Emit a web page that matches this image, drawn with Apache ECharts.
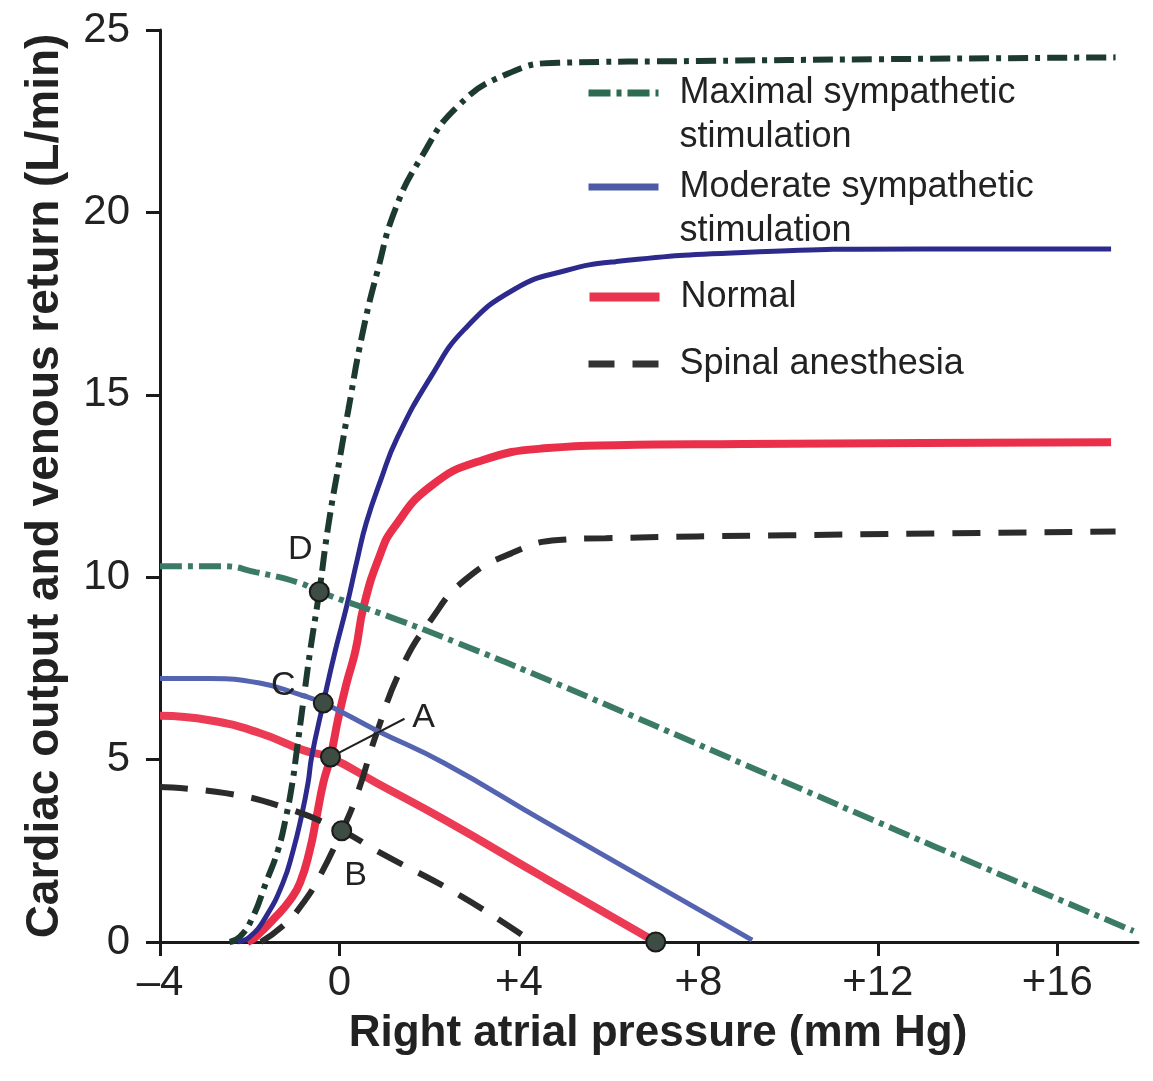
<!DOCTYPE html>
<html>
<head>
<meta charset="utf-8">
<script src="https://cdn.jsdelivr.net/npm/echarts@6/dist/echarts.min.js"></script>
<style>
  html, body { margin: 0; padding: 0; background: #fff; }
  #main { width: 1153px; height: 1081px; }
</style>
</head>
<body>
<div id="main"></div>
<script>
// tick labels
var xTicks = [-4, 0, 4, 8, 12, 16];

// cardiac output curves (x = right atrial pressure, y = L/min)
var maximalCO = [[-2.45,0],[-2.22,0.14],[-1.93,0.69],[-1.64,1.62],[-1.37,2.52],[-1.19,3.43],[-1.05,4.36],[-0.97,5.07],[-0.81,6.55],[-0.65,8.0],[-0.45,9.6],[-0.25,11.4],[0.0,13.2],[0.2,14.6],[0.5,16.6],[0.85,18.4],[1.25,20.1],[1.82,21.5],[2.63,22.9],[3.75,23.8],[4.88,24.1],[8,24.15],[12,24.2],[17.3,24.25]];
var moderateCO = [[-2.27,0],[-2.0,0.14],[-1.64,0.69],[-1.26,1.62],[-1.03,2.52],[-0.85,3.43],[-0.7,4.36],[-0.62,5.07],[-0.36,6.55],[-0.09,8.0],[0.16,9.2],[0.4,10.5],[0.6,11.5],[0.92,12.66],[1.28,13.8],[2.04,15.5],[2.79,16.8],[3.91,17.9],[5.03,18.4],[6.16,18.65],[9,18.9],[13,19.0],[17.2,19.0]];
var normalCO = [[-2.05,0],[-1.87,0.14],[-1.42,0.69],[-1.1,1.15],[-0.88,1.62],[-0.66,2.52],[-0.51,3.43],[-0.36,4.36],[-0.2,5.07],[-0.02,6.17],[0.16,7.1],[0.36,8.0],[0.54,9.2],[0.9,10.6],[1.21,11.35],[2.04,12.5],[3.17,13.2],[4.65,13.54],[6.16,13.62],[9,13.65],[13,13.68],[17.2,13.7]];
var spinalCO = [[-1.75,0],[-1.19,0.52],[-0.81,1.07],[-0.52,1.62],[0.0,2.9],[0.38,4.0],[0.83,5.73],[1.4,7.55],[2.04,8.83],[2.79,9.92],[3.84,10.66],[4.88,11.02],[5.93,11.07],[10,11.15],[17.3,11.25]];

// venous return curves
var maximalVR = [[-4,10.3],[-2.6,10.3],[-1.87,10.14],[-0.88,9.84],[-0.45,9.6],[1.15,8.9],[2.63,8.2],[4.81,7.1],[9.06,4.85],[13.3,2.6],[17.7,0.3]];
var moderateVR = [[-4,7.22],[-2.9,7.22],[-1.78,7.1],[-0.88,6.78],[-0.36,6.55],[0.83,5.8],[2.34,4.9],[4.58,3.3],[9.2,0.05]];
var normalVR = [[-4,6.2],[-2.9,6.08],[-1.78,5.73],[-0.81,5.26],[-0.2,5.05],[0.83,4.36],[2.34,3.35],[4.58,1.75],[7.05,0]];
var spinalVR = [[-4,4.25],[-2.54,4.08],[-1.26,3.7],[0.05,3.05],[0.83,2.5],[2.72,1.25],[4.3,0]];

// equilibrium points
var pointLabels = ['A', 'B', 'C', 'D', ''];
var pointValues = [[-0.2,5.07],[0.05,3.05],[-0.36,6.55],[-0.45,9.6],[7.05,0]];
var leaderA = [[-0.2,5.07],[1.45,6.12]];

var names = ['Maximal sympathetic stimulation', 'Moderate sympathetic stimulation', 'Normal', 'Spinal anesthesia'];

var chart = echarts.init(document.getElementById('main'));
var font = 'Liberation Sans, Arial, Helvetica, sans-serif';

// label offsets for A B C D
var labelOffsets = { A: [93, -39], B: [14, 45], C: [-40, -17], D: [-19, -42] };

var pointData = pointValues.map(function(v, i){
  var lab = pointLabels[i];
  return {
    value: v,
    label: lab ? { show: true, formatter: lab, offset: labelOffsets[lab] } : { show: false }
  };
});

function curve(name, data, color, width, type, z){
  return {
    name: name,
    type: 'line',
    data: data,
    showSymbol: false,
    symbol: 'none',
    smooth: 0.5,
    z: z || 2,
    lineStyle: { color: color, width: width, type: type, cap: 'butt' },
    itemStyle: { color: color }
  };
}

function legendFor(name, top, color, width, type, twoLine){
  return {
    data: [{ name: name, lineStyle: { color: color, width: width, type: type } }],
    left: 585,
    top: top,
    padding: 0,
    itemWidth: 70,
    itemHeight: 14,
    itemStyle: { opacity: 0, borderWidth: 0 },
    formatter: function(n){
      // keep the icon level with the first text line
      return twoLine ? '\n' + n.replace(' stimulation', '\nstimulation') : n;
    },
    textStyle: {
      fontFamily: font, fontSize: 36, color: '#222', lineHeight: 44,
      padding: [0, 0, 0, 16]
    }
  };
}

var option = {
  animation: false,
  backgroundColor: '#fff',
  grid: { left: 160, right: 15, top: 30, bottom: 139, containLabel: false, outerBoundsMode: 'none' },
  legend: [
    legendFor(names[0], 27, '#2c6a52', 7, [22, 6, 5, 6], true),
    legendFor(names[1], 121, '#4d5aa8', 7, 'solid', true),
    legendFor(names[2], 275, '#e8344e', 9, 'solid', false),
    legendFor(names[3], 342, '#333', 7, [26, 18], false)
  ],
  xAxis: {
    type: 'value',
    min: -4,
    max: 17.8,
    interval: 4,
    name: 'Right atrial pressure (mm Hg)',
    nameLocation: 'middle',
    nameGap: 70,
    nameMoveOverlap: false,
    nameTextStyle: { fontFamily: font, fontSize: 44, fontWeight: 'bold', color: '#222', padding: [0, 0, 0, 18] },
    axisLine: { onZero: false, lineStyle: { color: '#1a1a1a', width: 3 } },
    axisTick: { show: true, length: 14, lineStyle: { color: '#1a1a1a', width: 3 }, customValues: xTicks },
    axisLabel: {
      customValues: xTicks,
      margin: 20,
      fontFamily: font, fontSize: 42, color: '#222',
      formatter: function(v){ return v < 0 ? '\u2013' + Math.abs(v) : (v > 0 ? '+' + v : '' + v); }
    },
    splitLine: { show: false }
  },
  yAxis: {
    type: 'value',
    min: 0,
    max: 25,
    interval: 5,
    name: 'Cardiac output and venous return (L/min)',
    nameLocation: 'middle',
    nameGap: 92,
    nameMoveOverlap: false,
    nameTextStyle: { fontFamily: font, fontSize: 46, fontWeight: 'bold', color: '#222' },
    axisLine: { show: true, onZero: false, lineStyle: { color: '#1a1a1a', width: 3 } },
    axisTick: { show: true, length: 14, lineStyle: { color: '#1a1a1a', width: 3 } },
    axisLabel: { margin: 30, fontFamily: font, fontSize: 42, color: '#222' },
    splitLine: { show: false }
  },
  series: [
    curve(names[0], maximalCO, '#1d3a30', 6, [20, 7, 5, 7], 3),
    curve(names[1], moderateCO, '#2d2a8e', 5, 'solid', 3),
    curve(names[2], normalCO, '#ea2f4a', 8, 'solid', 2),
    curve(names[3], spinalCO, '#2b2b2b', 6, [28, 18], 3),
    curve(names[0], maximalVR, '#3a7a66', 6, [22, 6, 5, 6], 3),
    curve(names[1], moderateVR, '#5564b0', 5, 'solid', 3),
    curve(names[2], normalVR, '#ec3b55', 8, 'solid', 2),
    curve(names[3], spinalVR, '#2b2b2b', 6, [28, 18], 3),
    {
      name: 'leaderA',
      type: 'line',
      data: leaderA,
      symbol: 'none',
      z: 4,
      lineStyle: { color: '#222', width: 2 }
    },
    {
      name: 'points',
      type: 'scatter',
      data: pointData,
      symbolSize: 19,
      z: 5,
      itemStyle: { color: '#3e4d44', borderColor: '#1a1a1a', borderWidth: 2, opacity: 1 },
      label: { position: 'inside', fontFamily: font, fontSize: 34, color: '#222' }
    }
  ]
};

chart.setOption(option);
</script>
</body>
</html>
